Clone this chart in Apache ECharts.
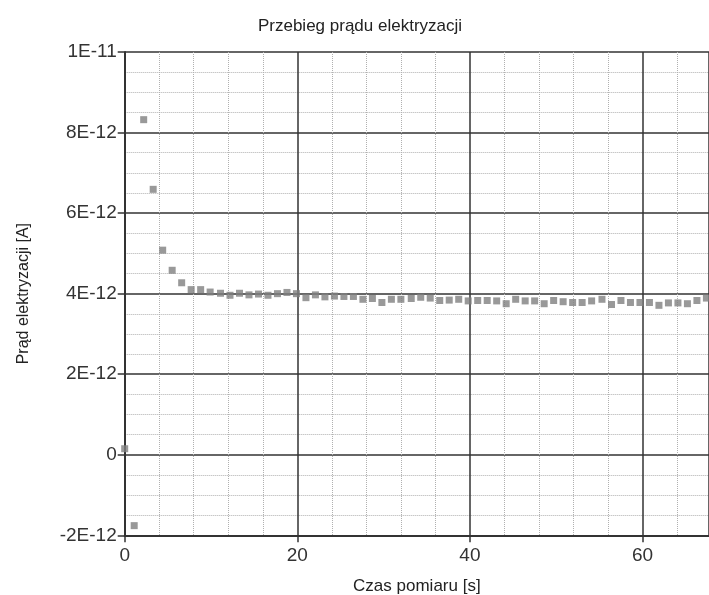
<!DOCTYPE html>
<html>
<head>
<meta charset="utf-8">
<script src="https://cdn.jsdelivr.net/npm/echarts@6/dist/echarts.min.js"></script>
<style>
  html, body { margin: 0; padding: 0; background: #fff; }
  #chart_container { width: 709px; height: 595px; }
</style>
</head>
<body>
<div id="chart_container"></div>
<script>
"use strict";

// czas pomiaru [s]
const czas = [0, 1.1, 2.2, 3.3, 4.4, 5.5, 6.6, 7.7, 8.8, 9.9,
    11.1, 12.2, 13.3, 14.4, 15.5, 16.6, 17.7, 18.8, 19.9, 21.0,
    22.1, 23.2, 24.3, 25.4, 26.5, 27.6, 28.7, 29.8, 30.9, 32.0,
    33.2, 34.3, 35.4, 36.5, 37.6, 38.7, 39.8, 40.9, 42.0, 43.1,
    44.2, 45.3, 46.4, 47.5, 48.6, 49.7, 50.8, 51.9, 53.0, 54.1,
    55.3, 56.4, 57.5, 58.6, 59.7, 60.8, 61.9, 63.0, 64.1, 65.2,
    66.3, 67.4];

// prad w pA (x 1E-12 A)
const pradPA = [0.15, -1.76, 8.32, 6.59, 5.08, 4.58, 4.27, 4.10, 4.10, 4.04,
    4.01, 3.96, 4.01, 3.97, 3.99, 3.96, 4.00, 4.03, 4.00, 3.90,
    3.97, 3.92, 3.94, 3.93, 3.93, 3.86, 3.88, 3.78, 3.86, 3.86,
    3.88, 3.91, 3.89, 3.83, 3.84, 3.86, 3.82, 3.83, 3.83, 3.82,
    3.75, 3.86, 3.82, 3.82, 3.75, 3.83, 3.80, 3.78, 3.78, 3.82,
    3.86, 3.73, 3.83, 3.78, 3.78, 3.78, 3.71, 3.77, 3.77, 3.75,
    3.83, 3.89];

const xTicks = [0, 20, 40, 60];
const yTicksPA = [-2, 0, 2, 4, 6, 8, 10];

const fontName = '"Liberation Sans", Arial, sans-serif';

let fmtY = (v) => {
    if (Math.abs(v) < 1e-9) return '0';
    return (v * 1e-12).toExponential(0).toUpperCase();
};

let pageLoaded = () => {
    let chartDom = document.getElementById('chart_container');
    let myChart = echarts.init(chartDom, null, { renderer: 'canvas' });

    let points = czas.map((t, i) => [t, pradPA[i]]);

    let optEchart = {
        animation: false,
        backgroundColor: '#ffffff',
        title: {
            text: 'Przebieg prądu elektryzacji',
            left: 355,
            textAlign: 'center',
            top: 13,
            textStyle: { fontFamily: fontName, fontSize: 17, fontWeight: 'normal', color: '#222' }
        },
        grid: { left: 124.7, top: 52, right: 0, bottom: 59.7, outerBoundsMode: 'none', containLabel: false },
        xAxis: {
            type: 'value',
            min: xTicks[0],
            max: 67.7,
            interval: 20,
            name: 'Czas pomiaru [s]',
            nameLocation: 'middle',
            nameGap: 43,
            nameTextStyle: { fontFamily: fontName, fontSize: 17, color: '#222' },
            axisLine: { show: true, onZero: false, lineStyle: { color: '#333', width: 2 } },
            axisTick: { show: true, length: 7, lineStyle: { color: '#333', width: 1.5 } },
            axisLabel: { fontFamily: fontName, fontSize: 19, color: '#333', margin: 11, showMaxLabel: false },
            splitLine: { show: true, lineStyle: { color: '#333', width: 1.5 } },
            minorTick: { show: false, splitNumber: 5 },
            minorSplitLine: { show: true, lineStyle: { color: '#b0b0b0', type: [1, 1], width: 1 } }
        },
        yAxis: {
            type: 'value',
            min: yTicksPA[0],
            max: yTicksPA[yTicksPA.length - 1],
            interval: 2,
            name: 'Prąd elektryzacji [A]',
            nameLocation: 'middle',
            nameGap: 93,
            nameTextStyle: { fontFamily: fontName, fontSize: 16, color: '#222' },
            axisLine: { show: true, onZero: false, lineStyle: { color: '#333', width: 2 } },
            axisTick: { show: true, length: 7, lineStyle: { color: '#333', width: 1.5 } },
            axisLabel: { fontFamily: fontName, fontSize: 19, color: '#333', margin: 8, formatter: fmtY },
            splitLine: { show: true, lineStyle: { color: '#333', width: 1.5 } },
            minorTick: { show: false, splitNumber: 4 },
            minorSplitLine: { show: true, lineStyle: { color: '#b0b0b0', type: [1, 1], width: 1 } }
        },
        series: [{
            type: 'scatter',
            data: points,
            symbol: 'rect',
            symbolSize: 7,
            itemStyle: { color: '#7f7f7f' },
            clip: true
        }]
    };

    optEchart && myChart.setOption(optEchart);
    console.log(`echart config and creation complete`);
};

window.addEventListener('load', pageLoaded, false);
</script>
</body>
</html>
